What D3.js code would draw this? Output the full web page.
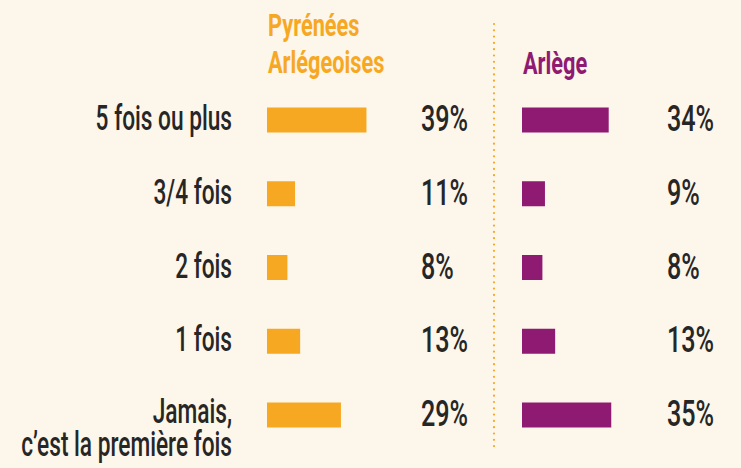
<!DOCTYPE html>
<html>
<head>
<meta charset="utf-8">
<script src="https://cdn.jsdelivr.net/npm/d3@7"></script>
<style>
  html, body { margin: 0; padding: 0; background: #fdf6ea; }
  svg { display: block; }
  text { font-family: Roboto, "Liberation Sans", sans-serif; }
</style>
</head>
<body>
<div id="chart"></div>
<script>
// Data
const categories = ["5 fois ou plus", "3/4 fois", "2 fois", "1 fois", "Jamais,|c\u2019est la premi\u00e8re fois"];
const pyreneesValues = [39, 11, 8, 13, 29];
const ariegeValues = [34, 9, 8, 13, 35];
const seriesTitles = [["Pyr\u00e9n\u00e9es", "Arl\u00e9geoises"], ["Arl\u00e8ge"]];

const width = 741, height = 468;
const orange = "#f7a823", purple = "#8f1a72", ink = "#262626";

const svg = d3.select("#chart")
    .append("svg")
    .attr("width", width)
    .attr("height", height);

svg.append("rect")
    .attr("width", width)
    .attr("height", height)
    .attr("fill", "#fdf6ea");

// Scales
const y = d3.scalePoint()
    .domain(categories)
    .range([120, 415]);

const x = d3.scaleLinear()
    .domain([0, 100])
    .range([0, 255]);

const barH = 25;
const sx = 0.64; // condensed look

const panels = [
    { values: pyreneesValues, color: orange, barX: 267, pctX: 421, title: seriesTitles[0] },
    { values: ariegeValues, color: purple, barX: 522, pctX: 667, title: seriesTitles[1] }
];

// Row labels
const rowLabels = svg.append("g")
    .selectAll("text")
    .data(categories)
    .join("text")
    .attr("transform", d => `translate(232,${y(d) + 10}) scale(0.63,1)`)
    .attr("text-anchor", "end")
    .attr("fill", ink)
    .attr("font-size", 36)
    .attr("font-weight", 500);

rowLabels.selectAll("tspan")
    .data(d => d.split("|"))
    .join("tspan")
    .attr("x", 0)
    .attr("dy", (d, i) => i === 0 ? (d.includes(",") ? -2 : 0) : 33)
    .text(d => d);

panels.forEach(p => {
    const g = svg.append("g");

    // Title
    g.append("text")
        .attr("transform", `translate(${p.barX + 1},${p.title.length > 1 ? 36 : 74}) scale(0.68,1)`)
        .attr("fill", p.color)
        .attr("font-size", 32)
        .attr("font-weight", 700)
        .selectAll("tspan")
        .data(p.title)
        .join("tspan")
        .attr("x", 0)
        .attr("dy", (d, i) => i === 0 ? 0 : 37)
        .text(d => d);

    // Bars
    g.selectAll("rect")
        .data(p.values)
        .join("rect")
        .attr("x", p.barX)
        .attr("y", (d, i) => y(categories[i]) - barH / 2)
        .attr("width", d => x(d))
        .attr("height", barH)
        .attr("fill", p.color);

    // Percent labels
    g.selectAll("text.pct")
        .data(p.values)
        .join("text")
        .attr("class", "pct")
        .attr("transform", (d, i) => `translate(${p.pctX},${y(categories[i]) + 11}) scale(0.68,1)`)
        .attr("fill", ink)
        .attr("font-size", 37)
        .attr("font-weight", 500)
        .text(d => d + "%");
});

// Dotted separator
svg.append("line")
    .attr("x1", 494).attr("x2", 494)
    .attr("y1", 24).attr("y2", 449)
    .attr("stroke", orange)
    .attr("stroke-width", 2.2)
    .attr("stroke-linecap", "round")
    .attr("stroke-dasharray", "0 6.3");
</script>
</body>
</html>
